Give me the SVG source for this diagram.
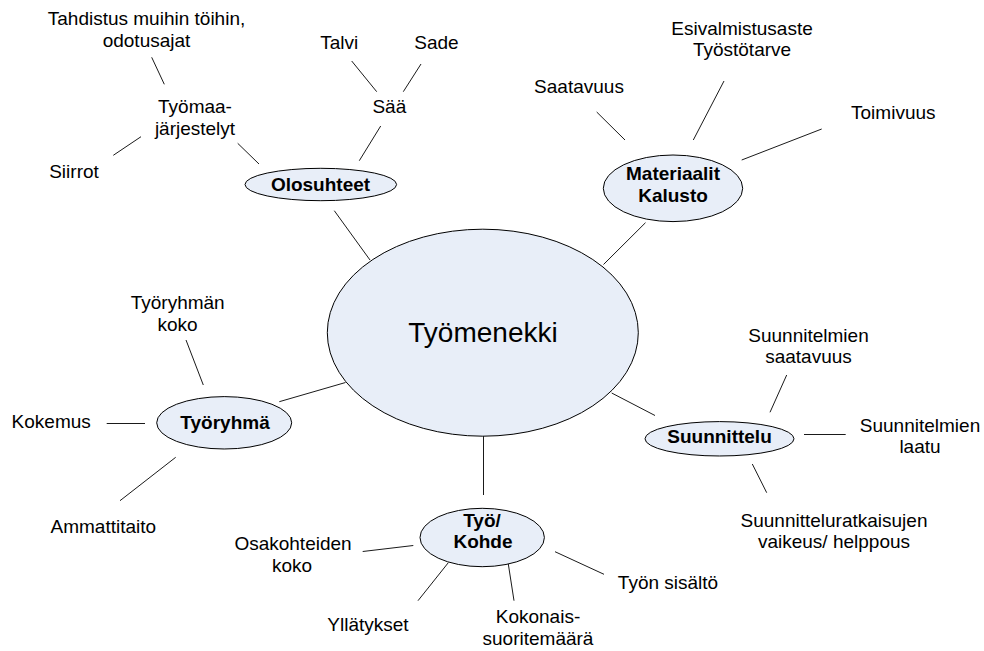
<svg xmlns="http://www.w3.org/2000/svg" width="984" height="651" viewBox="0 0 984 651">
<style>
.t{font-family:"Liberation Sans",Arial,sans-serif;font-size:19px;fill:#000;text-anchor:middle}
.b{font-weight:bold}
.big{font-size:28px}
.n{fill:#e8eef8;stroke:#000;stroke-width:1}
.c line{stroke:#1a1a1a;stroke-width:1;fill:none}
</style>
<rect width="984" height="651" fill="#fff"/>
<g id="connectors" class="c">
<line x1="151.7" y1="57.3" x2="164.3" y2="84.3"/>
<line x1="141" y1="136.7" x2="113.3" y2="155.3"/>
<line x1="237.7" y1="143.3" x2="259" y2="164"/>
<line x1="351.7" y1="61" x2="376.7" y2="91.7"/>
<line x1="421" y1="64" x2="403.3" y2="91.7"/>
<line x1="380.7" y1="126" x2="359.3" y2="160.7"/>
<line x1="334.3" y1="210.7" x2="370" y2="260"/>
<line x1="724" y1="81" x2="693.3" y2="140"/>
<line x1="596.7" y1="112" x2="625" y2="140"/>
<line x1="821.7" y1="129" x2="741.7" y2="160"/>
<line x1="645.5" y1="222.7" x2="603.5" y2="264.5"/>
<line x1="186" y1="340" x2="203.3" y2="385"/>
<line x1="106.7" y1="423.5" x2="145" y2="423.5"/>
<line x1="175.7" y1="457.3" x2="120" y2="500.7"/>
<line x1="279.3" y1="401.7" x2="345.5" y2="382.5"/>
<line x1="786.7" y1="375" x2="770" y2="412.3"/>
<line x1="804" y1="434.5" x2="845.7" y2="434.5"/>
<line x1="752.3" y1="464" x2="766.7" y2="492.7"/>
<line x1="611.7" y1="393" x2="655" y2="415.5"/>
<line x1="483.5" y1="436" x2="483.5" y2="495"/>
<line x1="362.7" y1="551.5" x2="413.3" y2="545.5"/>
<line x1="448.3" y1="562.7" x2="418" y2="600.7"/>
<line x1="508.3" y1="564" x2="514" y2="600.7"/>
<line x1="555" y1="551.7" x2="604" y2="574.3"/>
</g>
<g id="center">
<ellipse class="n" cx="482.8" cy="332.7" rx="155.5" ry="103.5"/>
<text class="t big" x="483" y="341.7">Työmenekki</text>
</g>
<g id="olosuhteet">
<ellipse class="n" cx="320.8" cy="184.5" rx="75.8" ry="16.2"/>
<text class="t b" x="320.5" y="190.5">Olosuhteet</text>
</g>
<g id="materiaalit">
<ellipse class="n" cx="673" cy="188.3" rx="69.7" ry="33.3"/>
<text class="t b" x="673" y="180">Materiaalit</text>
<text class="t b" x="673" y="201.7">Kalusto</text>
</g>
<g id="tyoryhma">
<ellipse class="n" cx="224.2" cy="422.8" rx="67.5" ry="26.2"/>
<text class="t b" x="225" y="428.5">Työryhmä</text>
</g>
<g id="suunnittelu">
<ellipse class="n" cx="719.5" cy="438.8" rx="74.5" ry="17.2"/>
<text class="t b" x="719.5" y="443">Suunnittelu</text>
</g>
<g id="tyokohde">
<ellipse class="n" cx="482.2" cy="537.5" rx="62.2" ry="29.2"/>
<text class="t b" x="482" y="526.7">Työ/</text>
<text class="t b" x="483" y="548">Kohde</text>
</g>
<g id="tahdistus"><text class="t" x="146.5" y="25">Tahdistus muihin töihin,</text><text class="t" x="146.5" y="47">odotusajat</text></g>
<g id="tyomaa"><text class="t" x="195" y="113">Työmaa-</text><text class="t" x="195" y="135">järjestelyt</text></g>
<g id="siirrot"><text class="t" x="74" y="178">Siirrot</text></g>
<g id="talvi"><text class="t" x="339.3" y="48.5">Talvi</text></g>
<g id="sade"><text class="t" x="436.5" y="48.5">Sade</text></g>
<g id="saa"><text class="t" x="389.3" y="113">Sää</text></g>
<g id="esivalmistus"><text class="t" x="742" y="34.5">Esivalmistusaste</text><text class="t" x="742" y="56">Työstötarve</text></g>
<g id="saatavuus"><text class="t" x="579" y="93">Saatavuus</text></g>
<g id="toimivuus"><text class="t" x="893.3" y="118.5">Toimivuus</text></g>
<g id="tyoryhman-koko"><text class="t" x="177.7" y="309">Työryhmän</text><text class="t" x="177.5" y="331">koko</text></g>
<g id="kokemus"><text class="t" x="51.2" y="427.5">Kokemus</text></g>
<g id="ammattitaito"><text class="t" x="103.3" y="533.3">Ammattitaito</text></g>
<g id="suunnitelmien-saatavuus"><text class="t" x="808.5" y="341.7">Suunnitelmien</text><text class="t" x="808.5" y="363.3">saatavuus</text></g>
<g id="suunnitelmien-laatu"><text class="t" x="920" y="431.7">Suunnitelmien</text><text class="t" x="920" y="453.3">laatu</text></g>
<g id="suunnitteluratkaisut"><text class="t" x="834" y="526.7">Suunnitteluratkaisujen</text><text class="t" x="834" y="548.3">vaikeus/ helppous</text></g>
<g id="osakohteiden"><text class="t" x="293" y="550">Osakohteiden</text><text class="t" x="292" y="571.7">koko</text></g>
<g id="yllatykset"><text class="t" x="368" y="630.7">Yllätykset</text></g>
<g id="kokonais"><text class="t" x="538" y="623">Kokonais-</text><text class="t" x="538" y="644.5">suoritemäärä</text></g>
<g id="tyon-sisalto"><text class="t" x="668" y="589.3">Työn sisältö</text></g>
</svg>
